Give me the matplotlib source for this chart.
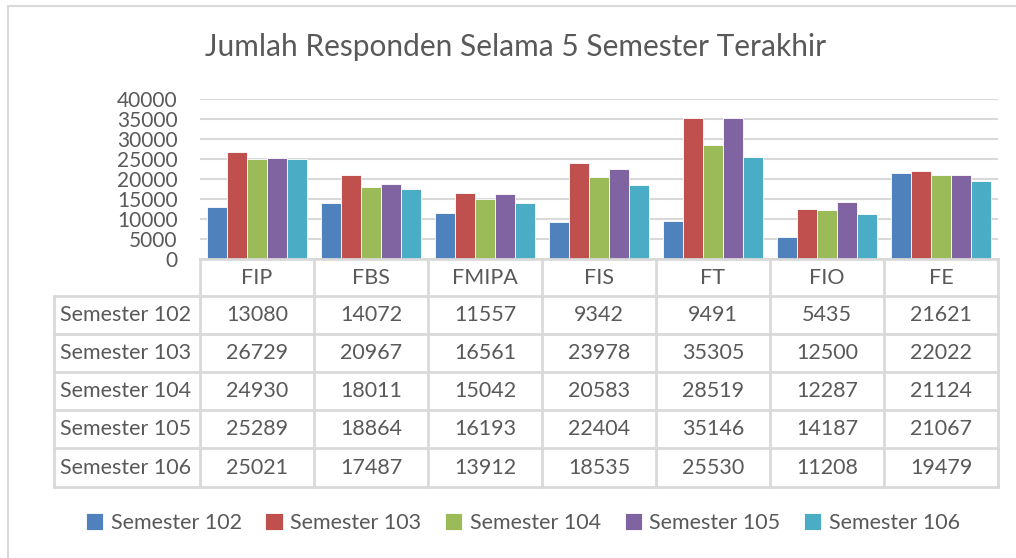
import matplotlib
matplotlib.use('Agg')
import matplotlib.pyplot as plt
import numpy as np
from matplotlib.transforms import blended_transform_factory
from matplotlib.patches import Rectangle

plt.rcParams['font.family'] = ['Lato', 'DejaVu Sans']

# data
categories = ['FIP', 'FBS', 'FMIPA', 'FIS', 'FT', 'FIO', 'FE']
series_names = ['Semester 102', 'Semester 103', 'Semester 104', 'Semester 105', 'Semester 106']
sem102 = [13080, 14072, 11557, 9342, 9491, 5435, 21621]
sem103 = [26729, 20967, 16561, 23978, 35305, 12500, 22022]
sem104 = [24930, 18011, 15042, 20583, 28519, 12287, 21124]
sem105 = [25289, 18864, 16193, 22404, 35146, 14187, 21067]
sem106 = [25021, 17487, 13912, 18535, 25530, 11208, 19479]
yticks = [0, 5000, 10000, 15000, 20000, 25000, 30000, 35000, 40000]

series = [sem102, sem103, sem104, sem105, sem106]
colors = ['#4F81BD', '#C0504D', '#9BBB59', '#8064A2', '#4BACC6']
TXT = '#595959'
GRID = '#D9D9D9'
FS = 15.5

W, H = 1016, 558
fig = plt.figure(figsize=(W / 100, H / 100), dpi=100)

def fy(px):
    return 1 - px / H

def fx(px):
    return px / W

# axes area: x 200..998, y 99..259
ax = fig.add_axes([fx(200), fy(259), fx(998) - fx(200), fy(99) - fy(259)])
n = len(categories)
x = np.arange(n)
bw = 0.175
for i, (vals, c) in enumerate(zip(series, colors)):
    ax.bar(x + (i - 2) * bw, vals, bw, color=c, edgecolor='white', linewidth=0.6,
           label=series_names[i], zorder=3)
ax.set_xlim(-0.5, n - 0.5)
ax.set_ylim(0, 40000)
ax.set_yticks(yticks)
ax.set_yticklabels([str(v) for v in yticks], fontsize=FS - 0.5, color=TXT)
ax.tick_params(axis='y', length=0, pad=16)
ax.set_xticks([])
ax.yaxis.grid(True, color=GRID, linewidth=1.5, zorder=0)
for s in ax.spines.values():
    s.set_visible(False)

# table
tr = blended_transform_factory(ax.transData, fig.transFigure)
tf = fig.transFigure
lw = 2
row_edges = [259, 296, 334, 372, 410, 448, 487]
for b in np.arange(n + 1) - 0.5:
    fig.add_artist(plt.Line2D([b, b], [fy(259), fy(487)], transform=tr, color=GRID, lw=lw))
fig.add_artist(plt.Line2D([fx(200), fx(998)], [fy(259), fy(259)], transform=tf, color=GRID, lw=lw))
for r in row_edges[1:]:
    fig.add_artist(plt.Line2D([fx(54), fx(998)], [fy(r), fy(r)], transform=tf, color=GRID, lw=lw))
fig.add_artist(plt.Line2D([fx(54), fx(54)], [fy(296), fy(487)], transform=tf, color=GRID, lw=lw))

for j, cat in enumerate(categories):
    fig.text(j, fy(278), cat, transform=tr, ha='center', va='center', fontsize=FS, color=TXT)
for i, (name, vals) in enumerate(zip(series_names, series)):
    yc = fy((row_edges[i + 1] + row_edges[i + 2]) / 2)
    fig.text(fx(60), yc, name, transform=tf, ha='left', va='center', fontsize=FS, color=TXT)
    for j, v in enumerate(vals):
        fig.text(j, yc, str(v), transform=tr, ha='center', va='center', fontsize=FS, color=TXT)

# title
fig.text(fx(516), fy(47), 'Jumlah Responden Selama 5 Semester Terakhir', ha='center', va='center',
         fontsize=21.5, color=TXT)

# legend
handles, labels = ax.get_legend_handles_labels()
fig.legend(handles, labels, loc='center', bbox_to_anchor=(fx(523), fy(523)), ncol=5, frameon=False,
           fontsize=FS, labelcolor=TXT, handlelength=0.8, handleheight=0.8,
           handletextpad=0.35, columnspacing=1.1)

# chart border
fig.add_artist(Rectangle((fx(8), fy(600)), fx(1100), fy(6) - fy(600), transform=tf,
                         fill=False, edgecolor=GRID, lw=1.5))

fig.savefig('out.png', dpi=100, facecolor='white')
